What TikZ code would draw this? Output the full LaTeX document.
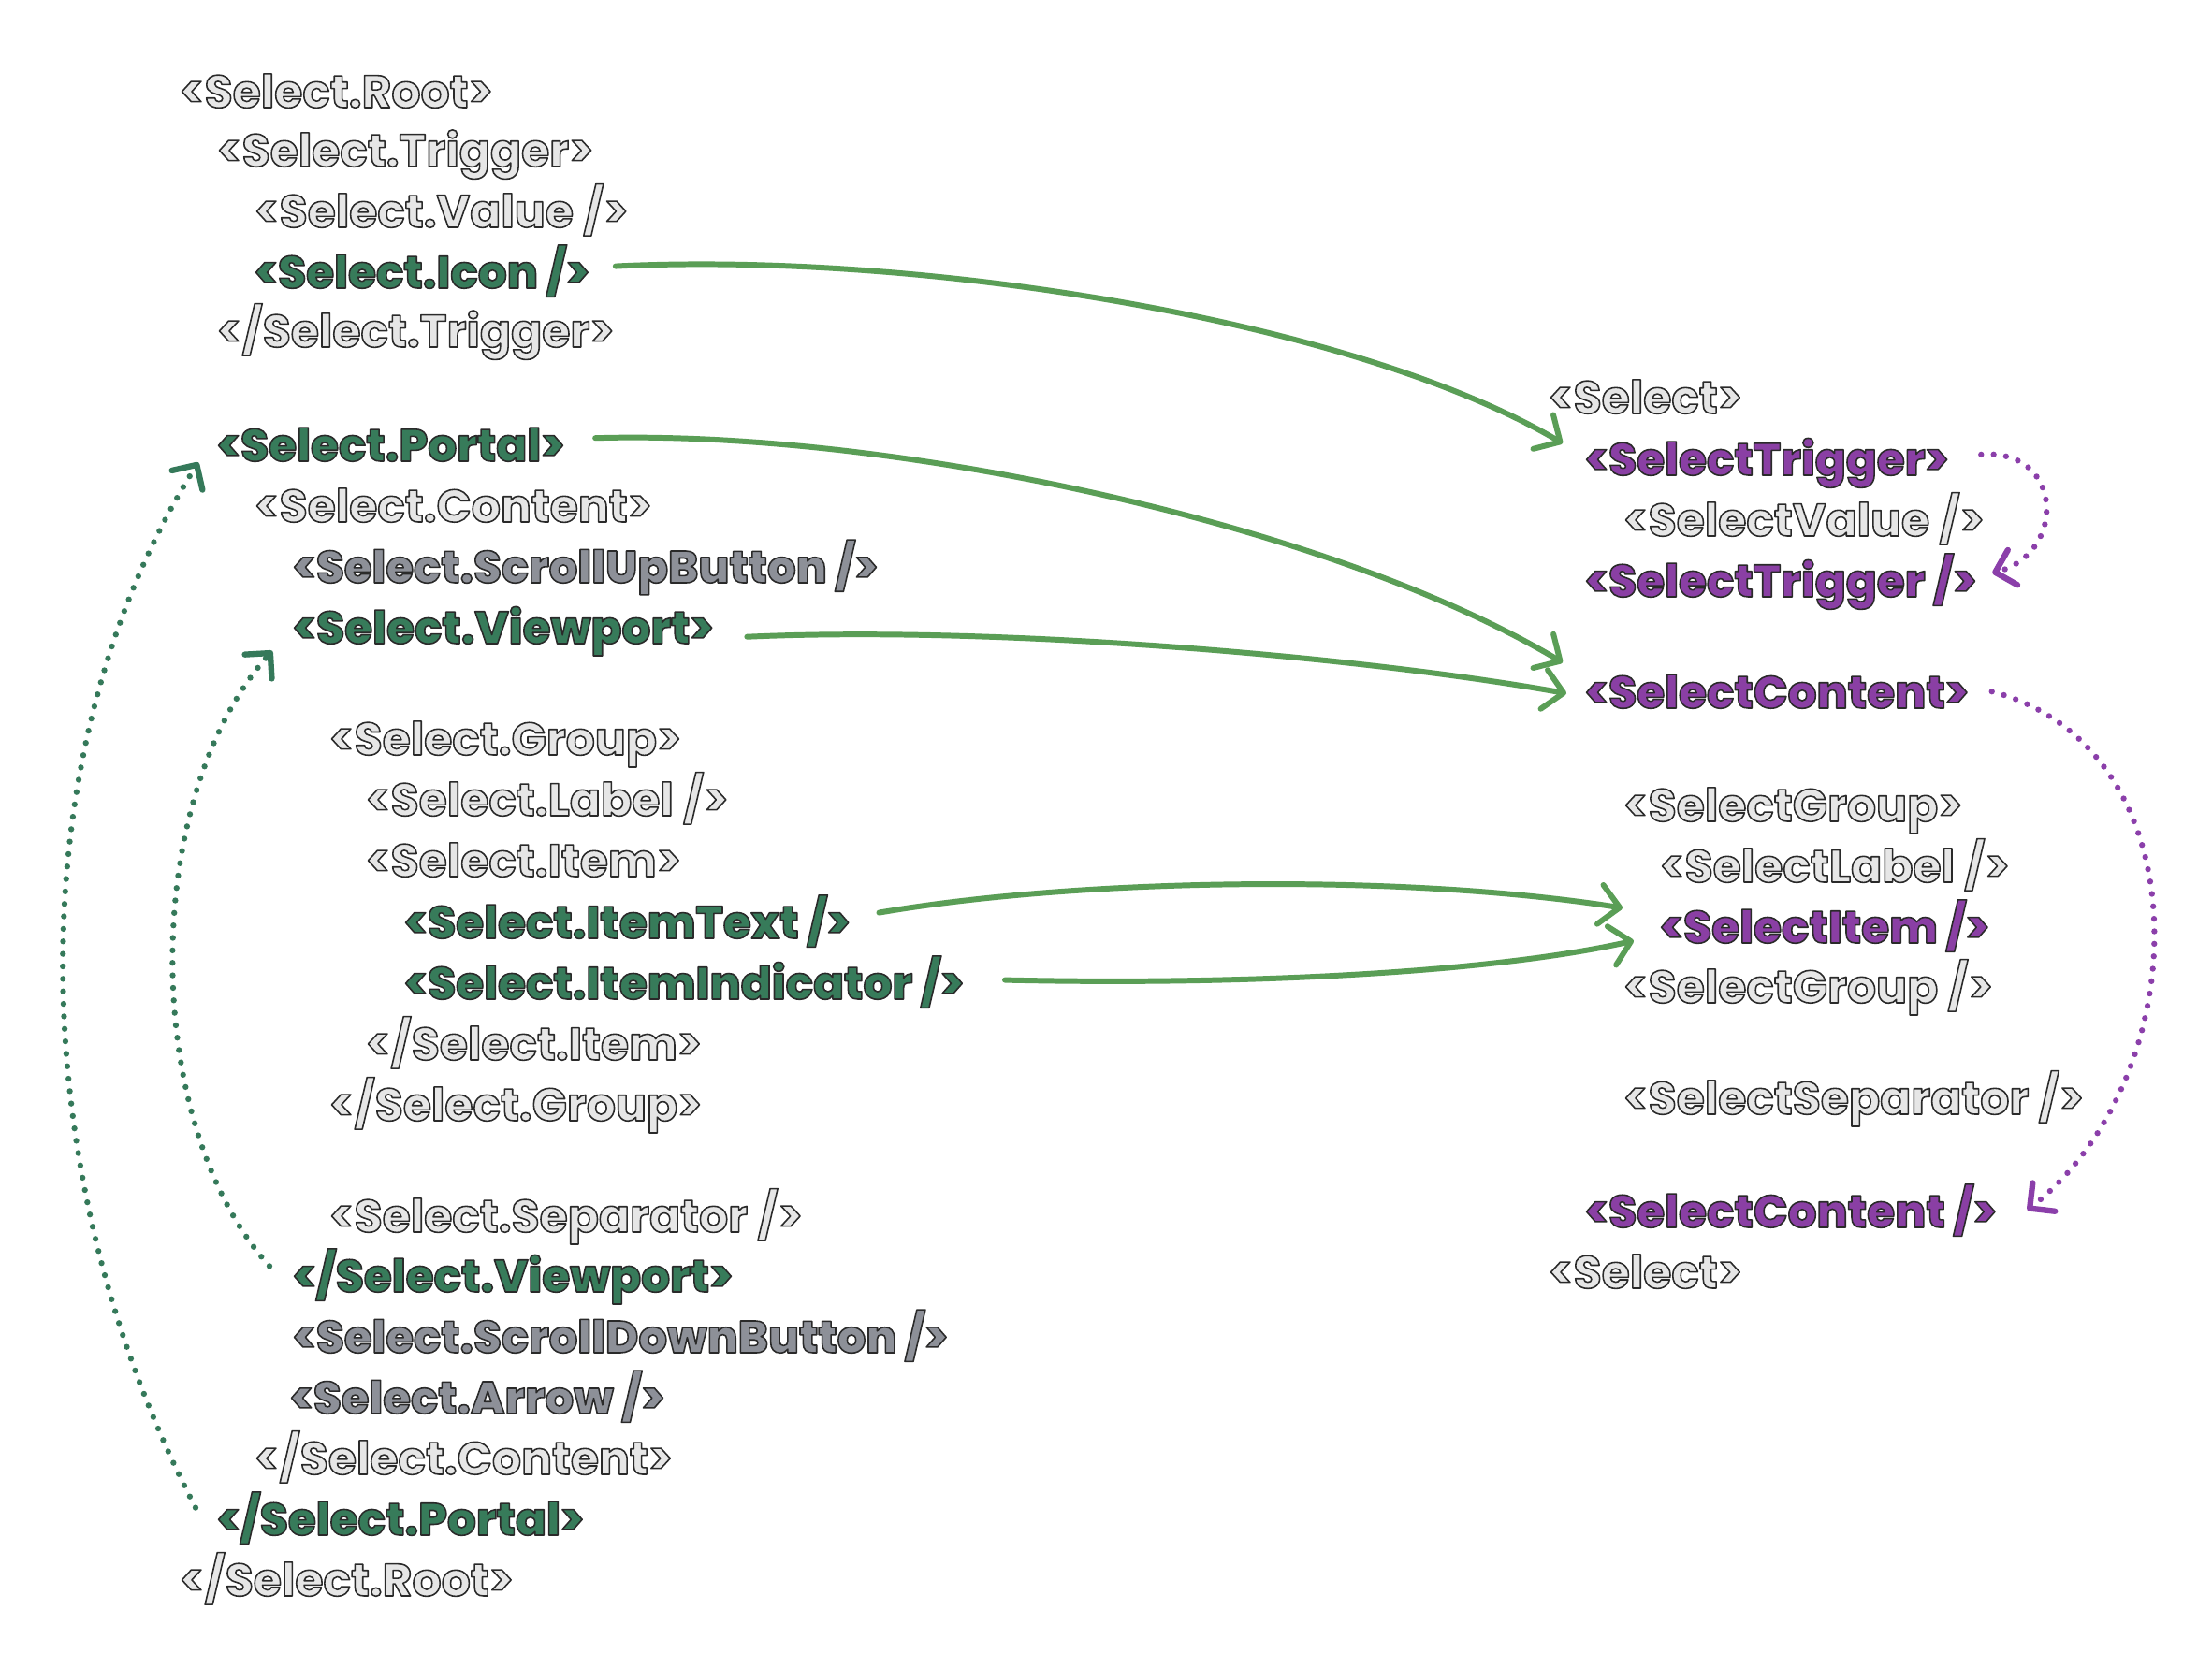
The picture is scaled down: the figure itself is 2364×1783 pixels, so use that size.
\documentclass[tikz,border=0pt]{standalone}
\usepackage{fontspec}
\setmainfont{Poppins}
\newfontfamily\lightfont{Poppins Bold}
\newfontfamily\heavyfont{Poppins ExtraBold}
\usetikzlibrary{arrows.meta}
\definecolor{lightfill}{HTML}{E6E6E6}
\definecolor{grayfill}{HTML}{8D9098}
\definecolor{greenfill}{HTML}{377B5A}
\definecolor{purplefill}{HTML}{8A3FA4}
\definecolor{arrowgreen}{HTML}{5A9E56}
\definecolor{dotgreen}{HTML}{35795A}
\definecolor{dotpurple}{HTML}{8B3FAA}
\newcommand{\tagtext}[1]{\special{pdf:literal direct 0.165 0.165 0.165 RG 0.45 w 1 j 2 Tr}#1\special{pdf:literal direct 0 Tr}}
\begin{document}
\begin{tikzpicture}[x=0.01cm,y=-0.01cm,
  tagbase/.style={anchor=base west, inner sep=0pt},
  light/.style={tagbase, text=lightfill, font=\fontsize{13.9}{16}\selectfont\lightfont},
  grayb/.style={tagbase, text=grayfill, font=\fontsize{13.7}{16}\selectfont\heavyfont},
  greenb/.style={tagbase, text=greenfill, font=\fontsize{13.8}{16}\selectfont\heavyfont},
  purpleb/.style={tagbase, text=purplefill, font=\fontsize{13.8}{16}\selectfont\heavyfont},
  garrow/.style={draw=arrowgreen, line width=1.7pt, line cap=round, -{Straight Barb[round,length=6pt,width=12pt]}},
  gdots/.style={draw=dotgreen, line width=1.8pt, line cap=round, dash pattern=on 0pt off 3.8pt, -{Straight Barb[round,length=5.5pt,width=11pt]}},
  pdots/.style={draw=dotpurple, line width=1.8pt, line cap=round, dash pattern=on 0pt off 3.8pt, -{Straight Barb[round,length=5.5pt,width=11pt]}}
]
\useasboundingbox (0,0) rectangle (2364,1783);
\fill[white] (0,0) rectangle (2364,1783);

% left column
\node[light]  (root)      at (191,115)  {\tagtext{<Select.Root>}};
\node[light]  (trig)      at (231,178)  {\tagtext{<Select.Trigger>}};
\node[light]  (val)       at (271,243)  {\tagtext{<Select.Value />}};
\node[greenb] (icon)      at (271,308)  {\tagtext{<Select.Icon />}};
\node[light]  (ctrig)     at (231,371)  {\tagtext{</Select.Trigger>}};
\node[greenb] (portal)    at (231,493)  {\tagtext{<Select.Portal>}};
\node[light]  (content)   at (271,558)  {\tagtext{<Select.Content>}};
\node[grayb]  (scrollup)  at (312,623)  {\tagtext{<Select.ScrollUpButton />}};
\node[greenb] (viewport)  at (312,688)  {\tagtext{<Select.Viewport>}};
\node[light]  (group)     at (351,807)  {\tagtext{<Select.Group>}};
\node[light]  (label)     at (390,872)  {\tagtext{<Select.Label />}};
\node[light]  (item)      at (390,937)  {\tagtext{<Select.Item>}};
\node[greenb] (itemtext)  at (431,1003) {\tagtext{<Select.ItemText />}};
\node[greenb] (itemind)   at (431,1068) {\tagtext{<Select.ItemIndicator />}};
\node[light]  (citem)     at (390,1133) {\tagtext{</Select.Item>}};
\node[light]  (cgroup)    at (351,1198) {\tagtext{</Select.Group>}};
\node[light]  (sep)       at (351,1317) {\tagtext{<Select.Separator />}};
\node[greenb] (cviewport) at (312,1381) {\tagtext{</Select.Viewport>}};
\node[grayb]  (scrolldn)  at (312,1446) {\tagtext{<Select.ScrollDownButton />}};
\node[grayb]  (arrow)     at (309,1511) {\tagtext{<Select.Arrow />}};
\node[light]  (ccontent)  at (271,1576) {\tagtext{</Select.Content>}};
\node[greenb] (cportal)   at (231,1641) {\tagtext{</Select.Portal>}};
\node[light]  (croot)     at (191,1706) {\tagtext{</Select.Root>}};

% right column
\node[light]   (rsel)     at (1654,442)  {\tagtext{<Select>}};
\node[purpleb] (rtrig)    at (1693,508)  {\tagtext{<SelectTrigger>}};
\node[light]   (rval)     at (1734,573)  {\tagtext{<SelectValue />}};
\node[purpleb] (rtrigc)   at (1693,638)  {\tagtext{<SelectTrigger />}};
\node[purpleb] (rcont)    at (1693,757)  {\tagtext{<SelectContent>}};
\node[light]   (rgroup)   at (1734,878)  {\tagtext{<SelectGroup>}};
\node[light]   (rlabel)   at (1773,943)  {\tagtext{<SelectLabel />}};
\node[purpleb] (ritem)    at (1773,1008) {\tagtext{<SelectItem />}};
\node[light]   (rgroupc)  at (1734,1072) {\tagtext{<SelectGroup />}};
\node[light]   (rsep)     at (1734,1191) {\tagtext{<SelectSeparator />}};
\node[purpleb] (rcontc)   at (1693,1312) {\tagtext{<SelectContent />}};
\node[light]   (rselc)    at (1654,1377) {\tagtext{<Select>}};

% green solid arrows
\draw[garrow] ([shift={(27,-5)}]icon.east) .. controls +(332,-16) and +(-220,-130) .. ([shift={(-23,-21)}]rtrig.west);
\draw[garrow] ([shift={(32,-7)}]portal.east) .. controls +(315,-9) and +(-250,-149) .. ([shift={(-23,-31)}]rcont.west);
\draw[garrow] ([shift={(35,6)}]viewport.east) .. controls +(264,-12) and +(-224,-40) .. ([shift={(-19,2)}]rcont.west);
\draw[garrow] ([shift={(30,-9)}]itemtext.east) .. controls +(215,-37) and +(-234,-37) .. ([shift={(-39,-19)}]ritem.west);
\draw[garrow] ([shift={(43,-2)}]itemind.east) .. controls +(267,6) and +(-146,33) .. ([shift={(-27,16)}]ritem.west);

% green dotted arrows
\draw[gdots] ([shift={(-22,-11)}]cportal.west) .. controls +(-189,-363) and +(-192,305) .. ([shift={(-19,19)}]portal.west);
\draw[gdots] ([shift={(-24,-11)}]cviewport.west) .. controls +(-138,-153) and +(-141,158) .. ([shift={(-21,21)}]viewport.west);

% purple dotted arrows
\draw[pdots] ([shift={(34,-9)}]rtrig.east) .. controls +(88,-7) and +(80,-22) .. ([shift={(16,-9)}]rtrigc.east);
\draw[pdots] ([shift={(24,0)}]rcont.east) .. controls +(227,60) and +(183,-145) .. ([shift={(32,0)}]rcontc.east);
\end{tikzpicture}
\end{document}
